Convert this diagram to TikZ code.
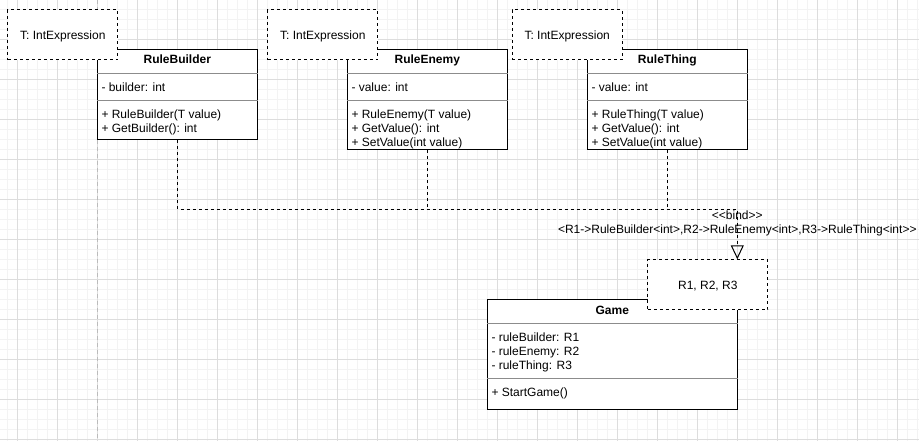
\documentclass[tikz,border=0pt]{standalone}
\usepackage{fontspec}
\newfontfamily\uml{Liberation Sans}
\usetikzlibrary{arrows.meta}
\definecolor{gridmin}{HTML}{F3F3F3}
\definecolor{gridmaj}{HTML}{DDDDDD}
\definecolor{pageline}{HTML}{BBBBBB}
\definecolor{sepgray}{HTML}{8C8C8C}
\begin{document}
\begin{tikzpicture}[x=1pt,y=-1pt,
  every node/.style={font=\uml\fontsize{12}{14}\selectfont},
  cls/.style={draw=black, line width=1pt, fill=white, anchor=north west, inner sep=0pt},
  tpl/.style={draw=black, line width=1pt, dash pattern=on 3pt off 3pt, fill=white, anchor=north west, inner sep=0pt, minimum width=110pt, minimum height=50pt, text height=8.6pt, text depth=0pt},
  ttl/.style={anchor=base, inner sep=0pt, font=\uml\bfseries\fontsize{12}{14}\selectfont},
  mem/.style={anchor=base west, inner sep=0pt},
  lbl/.style={anchor=base, inner sep=0pt},
  sepline/.style={draw=sepgray, line width=1pt},
  dep/.style={draw=black, line width=1pt, dash pattern=on 3pt off 3pt},
]
\useasboundingbox[fill=white] (0,0) rectangle (919,441);
% grid
\foreach \i in {0,...,91} \draw[gridmin, line width=0.8pt] ({7.3+10*\i},0) -- ({7.3+10*\i},441);
\foreach \j in {0,...,43} \draw[gridmin, line width=0.8pt] (0,{9.3+10*\j}) -- (919,{9.3+10*\j});
\foreach \i in {0,...,22} \draw[gridmaj, line width=0.8pt] ({17.3+40*\i},0) -- ({17.3+40*\i},441);
\foreach \j in {0,...,10} \draw[gridmaj, line width=0.8pt] (0,{39.3+40*\j}) -- (919,{39.3+40*\j});
\draw[pageline, line width=1pt, dash pattern=on 4pt off 3pt] (97.3,0) -- (97.3,441);

% classes
\node[cls, minimum width=160pt, minimum height=90pt] (rb) at (97.3,49.3) {};
\node[cls, minimum width=160pt, minimum height=100pt] (re) at (347.3,49.3) {};
\node[cls, minimum width=160pt, minimum height=100pt] (rt) at (587.3,49.3) {};
\node[cls, minimum width=250pt, minimum height=110pt] (gm) at (487.3,299.3) {};

\foreach \c in {rb,re,rt} {
  \draw[sepline] (\c.west |- 0,73.3) -- (\c.east |- 0,73.3);
  \draw[sepline] (\c.west |- 0,100.3) -- (\c.east |- 0,100.3);
}
\draw[sepline] (gm.west |- 0,323.3) -- (gm.east |- 0,323.3);
\draw[sepline] (gm.west |- 0,378.3) -- (gm.east |- 0,378.3);

% RuleBuilder
\node[ttl] (rbt) at (177.3,63.8) {RuleBuilder};
\node[mem] (rba) at (101.3,91.3) {- builder: int};
\node[mem] (rbm1) at (101.3,118.3) {+ RuleBuilder(T value)};
\node[mem] (rbm2) at (101.3,132.3) {+ GetBuilder(): int};

% RuleEnemy
\node[ttl] (ret) at (427.3,63.8) {RuleEnemy};
\node[mem] (rea) at (351.3,91.3) {- value: int};
\node[mem] (rem1) at (351.3,118.3) {+ RuleEnemy(T value)};
\node[mem] (rem2) at (351.3,132.3) {+ GetValue(): int};
\node[mem] (rem3) at (351.3,146.3) {+ SetValue(int value)};

% RuleThing
\node[ttl] (rtt) at (667.3,63.8) {RuleThing};
\node[mem] (rta) at (591.3,91.3) {- value: int};
\node[mem] (rtm1) at (591.3,118.3) {+ RuleThing(T value)};
\node[mem] (rtm2) at (591.3,132.3) {+ GetValue(): int};
\node[mem] (rtm3) at (591.3,146.3) {+ SetValue(int value)};

% Game
\node[ttl] (gmt) at (612.3,314.3) {Game};
\node[mem] (gma1) at (491.3,341.3) {- ruleBuilder: R1};
\node[mem] (gma2) at (491.3,355.3) {- ruleEnemy: R2};
\node[mem] (gma3) at (491.3,369.3) {- ruleThing: R3};
\node[mem] (gmm1) at (491.3,396.3) {+ StartGame()};

% template parameter boxes
\node[tpl] (t1) at (7.3,9.3) {T: IntExpression};
\node[tpl] (t2) at (267.3,9.3) {T: IntExpression};
\node[tpl] (t3) at (511.7,9.3) {T: IntExpression};
\node[tpl, minimum width=120pt] (rp) at (647.3,259.3) {R1, R2, R3};

% bind connectors
\coordinate (bend) at (737.3,209.3);
\draw[dep] (re.south) -- (re.south |- bend);
\draw[dep] (rt.south) -- (rt.south |- bend);
\draw[dep, -{Triangle[open, length=14pt, width=13pt, line width=1pt]}] (rb.south) |- (bend) -- (rp.north -| bend);

\node[lbl] (bl1) at (737.3,219) {<<bind>>};
\node[lbl] (bl2) at (737.3,233.5) {<R1->RuleBuilder<int>,R2->RuleEnemy<int>,R3->RuleThing<int>>};
\end{tikzpicture}
\end{document}
